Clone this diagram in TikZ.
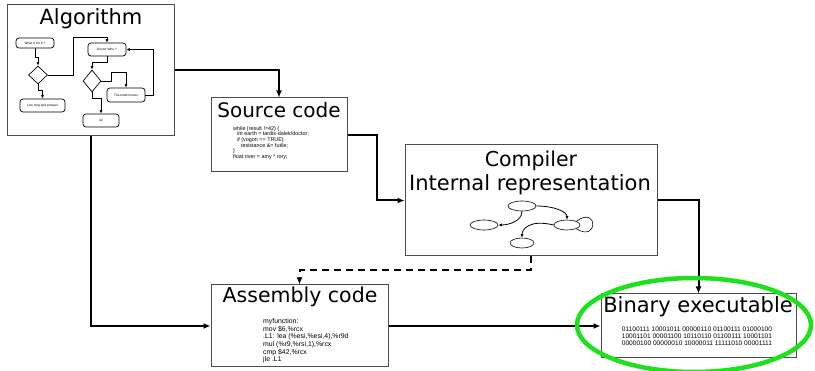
\documentclass[tikz,border=0pt]{standalone}
\usepackage{fontspec}
\setmainfont{DejaVu Sans}
\newfontfamily\codefont{Liberation Sans}
\usepackage{tikz}
\usepackage{xcolor}
\usetikzlibrary{arrows.meta, shapes.geometric}

\definecolor{hlgreen}{RGB}{30,225,30}

\tikzset{
    block/.style={draw=black!70, line width=1pt, rectangle, inner sep=0pt},
    title/.style={anchor=base, inner sep=0pt},
    listing/.style={anchor=west, align=left, inner sep=0pt},
    wire/.style={line width=2pt, -{Latex[length=7pt,width=6pt]}},
    mini/.style={draw=black, line width=0.7pt, rounded corners=3pt, inner sep=0pt, font=\codefont\fontsize{3.2}{3.4}\selectfont},
    choice/.style={draw=black, line width=0.7pt, diamond, inner sep=0pt},
    miniwire/.style={line width=0.8pt, -{Latex[length=3.5pt,width=3pt]}},
    blob/.style={draw=black, ellipse, line width=0.6pt, inner sep=0pt},
}

\begin{document}
\begin{tikzpicture}[x=1pt, y=-1pt]
    \useasboundingbox (0,0) rectangle (815,371);

    \node[block, minimum width=167pt, minimum height=131pt] (algo) at (90.5,70.5) {};
    \node[block, minimum width=136pt, minimum height=74pt] (src) at (279,135) {};
    \node[block, minimum width=252pt, minimum height=111pt] (comp) at (531,200.5) {};
    \node[block, minimum width=177pt, minimum height=82pt] (asm) at (299.5,326) {};
    \node[block, minimum width=195pt, minimum height=64pt] (bin) at (698.5,326) {};

    \node[title, font=\fontsize{21}{21}\selectfont] (algotitle) at (91,25) {Algorithm};
    \node[title, font=\fontsize{20}{20}\selectfont] (srctitle) at (279,118) {Source code};
    \node[title, font=\fontsize{20.5}{20.5}\selectfont] (comptitle) at (531,167) {Compiler};
    \node[title, font=\fontsize{21}{21}\selectfont] (irtitle) at (530,191) {Internal representation};
    \node[title, font=\fontsize{20.5}{20.5}\selectfont] (asmtitle) at (300,303) {Assembly code};
    \node[title, font=\fontsize{21}{21}\selectfont] (bintitle) at (698,313) {Binary executable};

    \node[listing, font=\codefont\fontsize{5.4}{5.6}\selectfont] (srctext) at (233,143) {while (result !=42) \{\\
        \hspace*{0.75em}int earth = tardis-dalek/doctor;\\
        \hspace*{0.75em}if (vogon == TRUE)\\
        \hspace*{1.4em}resistance \&= futile;\\
        \}\\
        float river = amy * rory;};
    \node[listing, font=\codefont\fontsize{6.9}{7.6}\selectfont] (asmtext) at (263,341) {myfunction:\\
        mov \$6,\%rcx\\
        .L1: lea (\%esi,\%esi,4),\%r9d\\
        mul (\%r9,\%rsi,1),\%rcx\\
        cmp \$42,\%rcx\\
        jle .L1};
    \node[inner sep=0pt, align=center, font=\codefont\fontsize{6.6}{7}\selectfont] (bintext) at (697,336) {01100111 10001011 00000110 01100111 01000100\\
        10001101 00001100 10110110 01100111 10001101\\
        00000100 00000010 10000011 11111010 00001111};

    \node[mini, minimum width=38pt, minimum height=10pt] (ask) at (35,43) {What is 6X 9 ?};
    \node[choice, minimum width=19pt, minimum height=18pt] (fork) at (38,75) {};
    \node[mini, minimum width=45pt, minimum height=13pt] (prosper) at (42.5,105.5) {Live long and prosper};
    \node[mini, minimum width=38pt, minimum height=13pt] (doctor) at (107,49.5) {Doctor Who ?};
    \node[choice, minimum width=18pt, minimum height=22pt] (fork2) at (92,81) {};
    \node[mini, minimum width=38pt, minimum height=14pt] (turtle) at (126,95) {The turtle moves};
    \node[mini, minimum width=36pt, minimum height=13pt] (answer) at (101,120.5) {42};

    \draw[miniwire] (ask.south) -- ++(0,9) -| (fork.north);
    \draw[miniwire] (fork.east) -- ++(26,0) |- ([yshift=5pt]doctor.north) -- (doctor.north);
    \draw[miniwire] (fork.south) -- ++(0,6) -| (prosper.north);
    \draw[miniwire] (doctor.south) -- ++(0,6) -| (fork2.north);
    \draw[miniwire] (fork2.east) -- ++(10,0) |- ([yshift=15pt]turtle.north) -- (turtle.north);
    \draw[miniwire] (turtle.east) -- ++(8,0) |- (doctor.east);
    \draw[miniwire] (fork2.south) -- ++(0,6) -| (answer.north);

    \node[blob, minimum width=28pt, minimum height=10pt] (ira) at (522,206) {};
    \node[blob, minimum width=28pt, minimum height=10pt] (irb) at (484,225) {};
    \node[blob, minimum width=26pt, minimum height=10pt] (irc) at (567,225) {};
    \node[blob, minimum width=24pt, minimum height=10pt] (ird) at (522,243) {};

    \draw[miniwire] (ira.south) .. controls +(0,10) and +(10,0) .. (irb.east);
    \draw[miniwire] (ira.east) .. controls +(18,0) and +(0,-8) .. (irc.north);
    \draw[line width=0.6pt] (irc.north east) .. controls +(22,-16) and +(22,14) .. (irc.south east);
    \draw[miniwire] (irc.west) .. controls +(-25,-6) and +(0,-8) .. (ird.north);

    \draw[wire] (algo.east) -| (src.north);
    \draw[wire] (src.east) -- ++(29,0) |- (comp.west);
    \draw[wire] (comp.east) -| (bin.north);
    \draw[wire, dash pattern=on 7pt off 5pt] (comp.south) -- ++(0,14) -| (asm.north);
    \draw[wire] (algo.south) |- (asm.west);
    \draw[wire] (asm.east) -- (bin.west);

    \draw[draw=hlgreen, line width=4.5pt] (694,325) ellipse [x radius=117pt, y radius=47pt];
\end{tikzpicture}
\end{document}
